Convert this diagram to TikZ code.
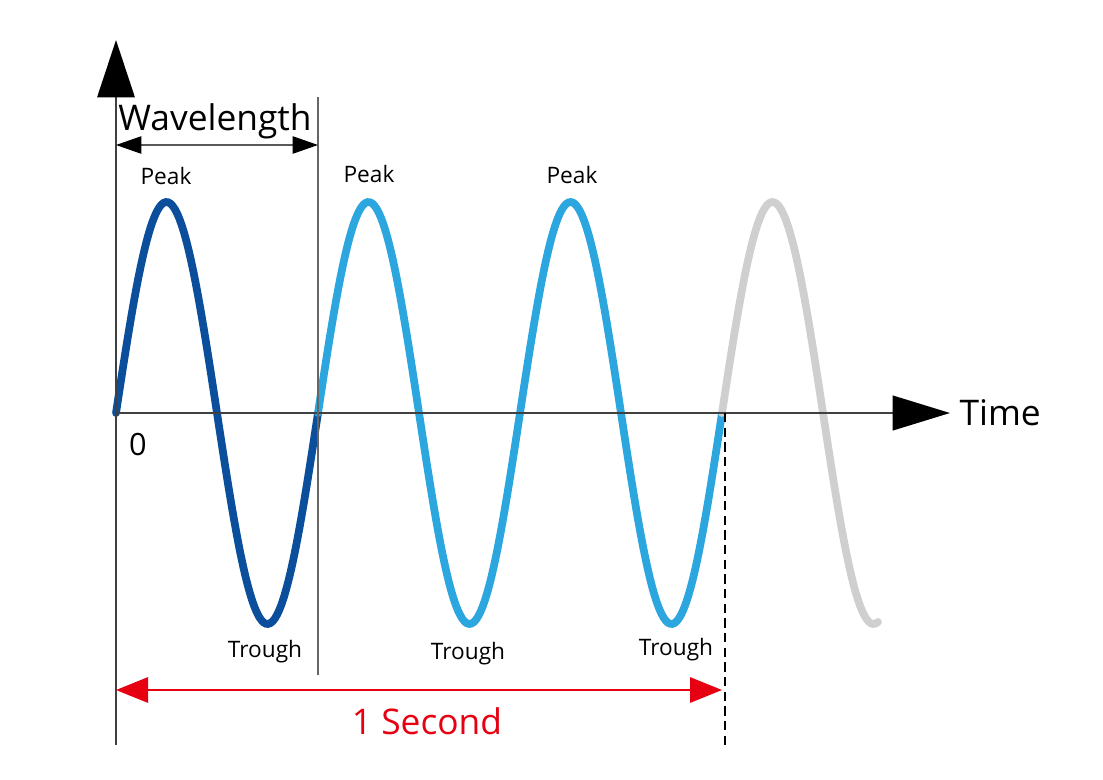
\documentclass[tikz,border=0pt]{standalone}
\usepackage{fontspec}
\setmainfont{Open Sans}
\usepackage{xcolor}
\usetikzlibrary{arrows.meta, positioning}
\definecolor{wavedark}{HTML}{0B4F9C}
\definecolor{wavelight}{HTML}{2CA6DF}
\definecolor{wavegray}{HTML}{CFCFCF}
\definecolor{secred}{HTML}{E60012}
\tikzset{
  axisline/.style={line width=1.5pt, draw=black!75},
  bigtip/.style={-{Triangle[length=43pt, width=28pt, color=black]}},
  wave/.style={line width=5.8pt, line cap=round},
  lbl/.style={font=\fontsize{17}{20}\selectfont, inner sep=0pt, anchor=base},
  biglbl/.style={font=\fontsize{26.5}{30}\selectfont, inner sep=0pt, anchor=base},
  guide/.style={line width=1pt, draw=black!60},
  span/.style={{Triangle[length=19pt, width=13pt, color=black]}-{Triangle[length=19pt, width=13pt, color=black]},
               line width=1pt, draw=black!65},
  redspan/.style={{Triangle[length=24pt, width=19pt]}-{Triangle[length=24pt, width=19pt]},
                  line width=1.5pt, draw=secred},
}

\begin{document}
\begin{tikzpicture}[x=0.75pt, y=-0.75pt, node distance=7pt]
    \useasboundingbox (0,0) rectangle (1103,779);

    % the wave, one period per 202px
    \draw[wave, wavedark] plot[domain=0:202, samples=90] ({116+\x},{413-211*sin(\x/202*360)});
    \draw[wave, wavelight] plot[domain=202:606, samples=180] ({116+\x},{413-211*sin(\x/202*360)});
    \draw[wave, wavegray] plot[domain=606:762, samples=70] ({116+\x},{413-211*sin(\x/202*360)});

    \coordinate (ybot) at (116,745);
    \coordinate (ytop) at (116,40);
    \coordinate (orig) at (116,413);
    \coordinate (xtip) at (950,413);
    \coordinate (wl0) at (116,145);
    \coordinate (wl1) at (318,145);
    \coordinate (mark0) at (318,97);
    \coordinate (mark1) at (318,675);
    \coordinate (sec0) at (116,690);
    \coordinate (sec1) at (722,690);
    \coordinate (dash0) at (725,413);
    \coordinate (dash1) at (725,745);

    \draw[axisline, bigtip] (ybot) -- (ytop);
    \draw[axisline, -{Triangle[length=43pt, width=26pt, color=black]}] (orig) -- (xtip);
    \draw[guide] (mark0) -- (mark1);
    \draw[span] (wl0) -- (wl1);
    \draw[redspan] (sec0) -- (sec1);
    \draw[line width=1pt, dashed, dash pattern=on 7pt off 4pt] (dash0) -- (dash1);

    \node[biglbl] (wavelen) at (215,130) {Wavelength};
    \node[biglbl, anchor=west, right=of xtip] (time) {Time};
    \node[font=\fontsize{23}{26}\selectfont, inner sep=0pt, anchor=base] (zero) at (138,455) {0};
    \node[lbl] (peak1) at (166,184) {Peak};
    \node[lbl] (peak2) at (369,182) {Peak};
    \node[lbl] (peak3) at (572,183) {Peak};
    \node[lbl] (trough1) at (265,657) {Trough};
    \node[lbl] (trough2) at (468,659) {Trough};
    \node[lbl] (trough3) at (676,655) {Trough};
    \node[biglbl, text=secred] (second) at (427,734) {1 Second};
\end{tikzpicture}
\end{document}
